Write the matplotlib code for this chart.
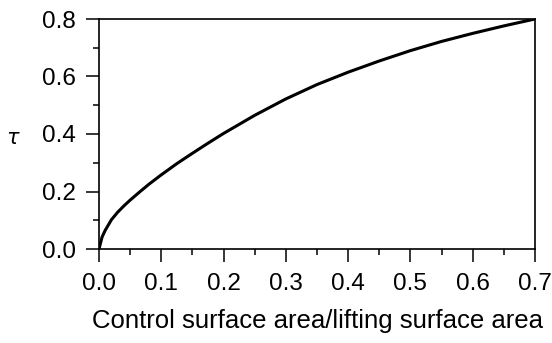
import matplotlib
matplotlib.use("Agg")
import matplotlib.pyplot as plt
from matplotlib.ticker import MultipleLocator

plt.rcParams['font.family'] = ['Liberation Sans', 'DejaVu Sans']

# values
area_ratio = [0.0, 0.005, 0.01, 0.02, 0.03, 0.04, 0.05, 0.065, 0.08, 0.1,
              0.125, 0.15, 0.175, 0.2, 0.25, 0.3, 0.35, 0.4, 0.45, 0.5,
              0.55, 0.6, 0.65, 0.7]
tau = [0.0, 0.042, 0.065, 0.102, 0.128, 0.15, 0.17, 0.198, 0.225, 0.258,
       0.297, 0.333, 0.368, 0.402, 0.465, 0.522, 0.572, 0.615, 0.654, 0.69,
       0.722, 0.75, 0.776, 0.8]

fig = plt.figure(figsize=(5.52, 3.43), dpi=100)
ax = fig.add_axes([99 / 552, 1 - 249 / 343, 436 / 552, 230 / 343])

ax.plot(area_ratio, tau, color='black', linewidth=2.2)

ax.set_xlim(0, 0.7)
ax.set_ylim(0, 0.8)
ax.xaxis.set_major_locator(MultipleLocator(0.1))
ax.xaxis.set_minor_locator(MultipleLocator(0.05))
ax.yaxis.set_major_locator(MultipleLocator(0.2))
ax.yaxis.set_minor_locator(MultipleLocator(0.1))
ax.tick_params(which='major', direction='out', length=9.5, width=1.1, labelsize=17.5)
ax.tick_params(which='minor', direction='out', length=4, width=1.1)
ax.tick_params(axis='y', which='major', pad=7)
ax.tick_params(axis='x', which='major', pad=7.5)
for s in ax.spines.values():
    s.set_linewidth(1.2)

ax.set_xlabel('Control surface area/lifting surface area', fontsize=18.5, va='top')
ax.xaxis.set_label_coords(0.5, -0.262)
ax.set_ylabel(r'$\tau$', fontsize=15, rotation=0, ha='center', va='center')
ax.yaxis.set_label_coords(-0.197, 0.48)

fig.savefig('out.png', dpi=100)
